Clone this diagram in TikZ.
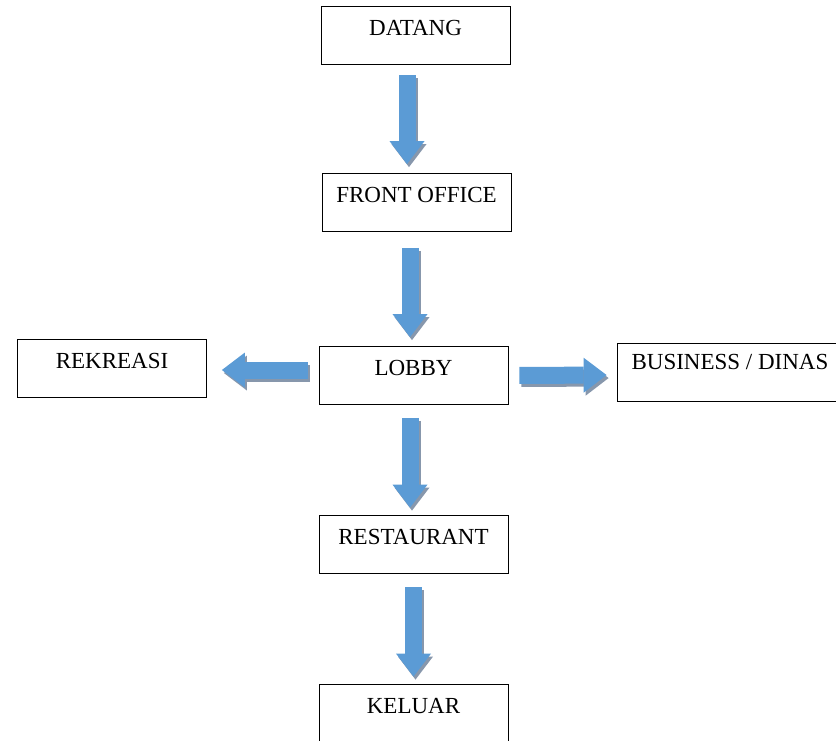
\documentclass[tikz,border=0pt]{standalone}
\usepackage{fontspec}
\setmainfont{Liberation Serif}
\usetikzlibrary{arrows.meta}
\definecolor{flowblue}{HTML}{5B9BD5}
\definecolor{flowshade}{HTML}{8797AC}
\tikzset{
    box/.style={draw, line width=0.8pt, minimum width=189pt, inner xsep=0pt, inner ysep=0pt,
        text height=29pt, text depth=29pt, font=\fontsize{23}{27}\selectfont},
    flow/.style={line width=17pt, draw=flowblue, -{Triangle[length=23pt, width=35pt, line width=0pt 0]}},
    flowshadow/.style={flow, draw=flowshade, transform canvas={xshift=2pt, yshift=-3pt}}
}
% arrow with its shadow
\newcommand{\flowline}[3]{\draw[flowshadow,#1] #2 -- #3; \draw[flow,#1] #2 -- #3;}

\begin{document}
\begin{tikzpicture}[x=1pt, y=-1pt]
        \path[use as bounding box, clip] (0,0) rectangle (836,740);

        \node[box] (datang) at (415.5,35) {DATANG};
        \node[box] (front) at (416.5,202.5) {FRONT OFFICE};
        \node[box] (lobby) at (413.5,375.5) {LOBBY};
        \node[box] (rekreasi) at (112,368.5) {REKREASI};
        \node[box, minimum width=226pt, text height=26pt, text depth=32pt] (business) at (730,372) {BUSINESS / DINAS};
        \node[box] (restaurant) at (413.5,544) {RESTAURANT};
        \node[box] (keluar) at (413.5,713) {KELUAR};

        \flowline{shorten <=11pt, shorten >=9pt}{([xshift=-8.5pt]datang.south)}{([xshift=-9.5pt]front.north)}
        \flowline{shorten <=16pt, shorten >=9pt}{([xshift=-6.5pt]front.south)}{([xshift=-3.5pt]lobby.north)}
        \flowline{shorten <=11pt, shorten >=15pt}{([yshift=5.5pt]lobby.west)}{([yshift=-1.5pt]rekreasi.east)}
        \flowline{shorten <=11pt, shorten >=10pt}{(lobby.east)}{([yshift=-3pt]business.west)}
        \flowline{shorten <=13pt, shorten >=7pt}{([xshift=-3.5pt]lobby.south)}{([xshift=-3.5pt]restaurant.north)}
        \flowline{shorten <=14pt, shorten >=7pt}{(restaurant.south)}{(keluar.north)}
\end{tikzpicture}
\end{document}
